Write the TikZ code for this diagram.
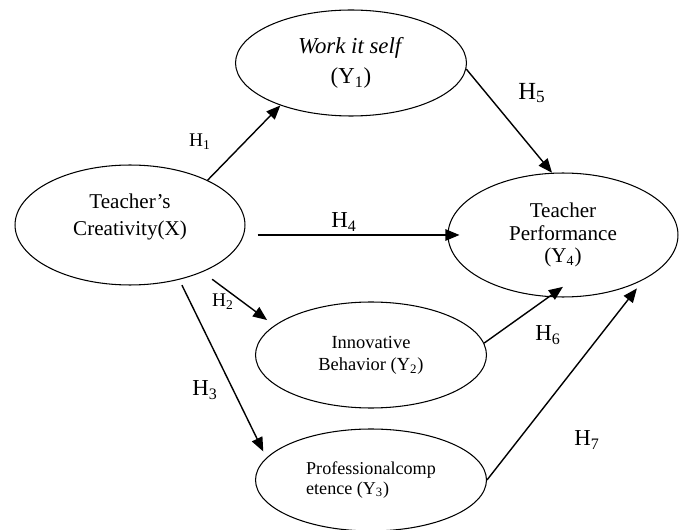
\documentclass[tikz,border=0pt]{standalone}
\usepackage{fontspec}
\setmainfont{Liberation Serif}
\usetikzlibrary{shapes.geometric,arrows.meta}

\begin{document}
\begin{tikzpicture}[x=0.02cm,y=-0.02cm,
		var/.style={ellipse,draw,line width=0.6pt,inner sep=0pt,minimum width=4.62cm},
		hyp/.style={-{Triangle[length=8pt,width=6.5pt]},line width=0.8pt},
		lab/.style={inner sep=0pt,font=\fontsize{13}{15}\selectfont}]
		\useasboundingbox (0,0) rectangle (680,530);

		% variables
		\node[var,minimum height=2.12cm,align=center,font=\fontsize{13}{17.5}\selectfont] (work) at (351,63) {\textit{Work it self}\\(Y\textsubscript{1})};
		\node[var,minimum width=4.6cm,minimum height=2.4cm,align=center,text depth=12pt,font=\fontsize{12}{15.4}\selectfont] (cre) at (130,225) {Teacher's\\Creativity(X)};
		\node[var,minimum width=4.6cm,minimum height=2.48cm,align=center,font=\fontsize{12}{12.8}\selectfont] (tp) at (563,235) {Teacher\\Performance\\(Y\textsubscript{4})};
		\node[var,minimum height=2.12cm,align=center,font=\fontsize{10.5}{12.5}\selectfont] (inn) at (371,355) {Innovative\\Behavior (Y\textsubscript{2})};
		\node[var,minimum height=2.04cm,align=left,font=\fontsize{10.3}{11}\selectfont] (prof) at (371,480) {Professionalcomp\\etence (Y\textsubscript{3})};

		% hypotheses
		\draw[hyp] (cre.30) -- (work.211);
		\draw[hyp] (work.357) -- (tp.100);
		\draw[hyp,shorten <=0.24cm,shorten >=-0.24cm] (cre.east |- tp.west) -- (tp.west);
		\draw[hyp,shorten <=0.24cm,shorten >=0.18cm] (cre.-33) -- (inn.163);
		\draw[hyp,shorten <=0.12cm,shorten >=0.14cm] (cre.-48) -- (prof.168);
		\draw[hyp,shorten >=-0.35cm] (inn.6) -- (tp.257);
		\draw[hyp,shorten >=0.22cm] (prof.east) -- (tp.-29);

		\node[lab,font=\fontsize{11}{13}\selectfont] (h1) at (200,142) {H\textsubscript{1}};
		\node[lab,font=\fontsize{11}{13}\selectfont] (h2) at (223,302) {H\textsubscript{2}};
		\node[lab] (h3) at (205,390) {H\textsubscript{3}};
		\node[lab] (h4) at (344,222) {H\textsubscript{4}};
		\node[lab,font=\fontsize{14}{16}\selectfont] (h5) at (532,93) {H\textsubscript{5}};
		\node[lab] (h6) at (548,335) {H\textsubscript{6}};
		\node[lab] (h7) at (587,440) {H\textsubscript{7}};
	\end{tikzpicture}
\end{document}
